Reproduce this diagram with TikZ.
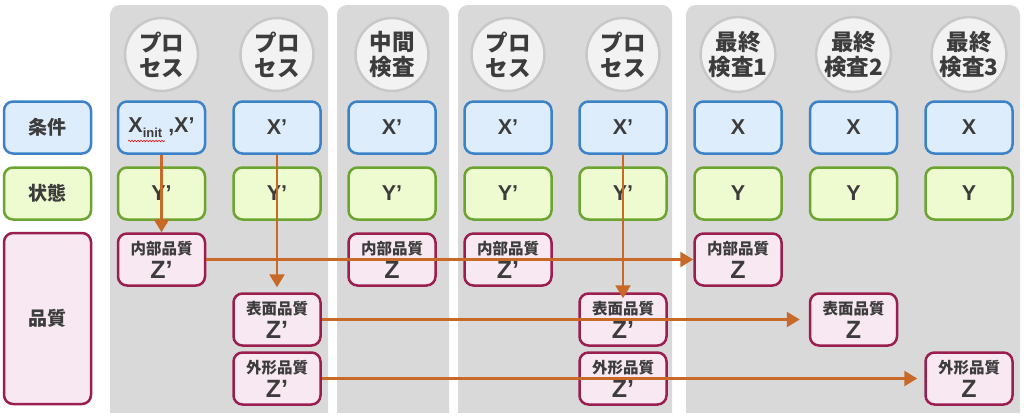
\documentclass[tikz,border=0pt]{standalone}
\usepackage{fontspec}
\usetikzlibrary{arrows.meta}
\usetikzlibrary{decorations.pathmorphing}
\newfontfamily\jpfont{Noto Sans CJK JP}
\newfontfamily\latinfont{Liberation Sans}
\definecolor{panelgray}{HTML}{D9D9D9}
\definecolor{circfill}{HTML}{F2F2F2}
\definecolor{circline}{HTML}{C8C8C8}
\definecolor{condfill}{HTML}{DEEDFB}
\definecolor{condline}{HTML}{3B82C8}
\definecolor{statefill}{HTML}{EEFAD0}
\definecolor{stateline}{HTML}{6BA530}
\definecolor{qualfill}{HTML}{F8E8F1}
\definecolor{qualline}{HTML}{9B1E50}
\definecolor{flowc}{HTML}{C86928}
\definecolor{txt}{HTML}{3C3C3C}
\newcommand{\qlab}[1]{{\jpfont\bfseries\fontsize{15.5}{16}\selectfont #1}}
\newcommand{\qval}[1]{{\latinfont\bfseries\fontsize{25}{25}\selectfont #1}}

\begin{document}
\begin{tikzpicture}[x=1pt, y=-1pt,
    proc/.style={circle, minimum size=73pt, inner sep=0pt, fill=circfill,
        draw=circline, line width=2.5pt, align=center, text=txt,
        font=\jpfont\bfseries\fontsize{22.5}{25}\selectfont},
    box/.style={rounded corners=9pt, minimum width=87pt, minimum height=52pt,
        line width=2.5pt, inner sep=0pt, align=center, text=txt},
    cond/.style={box, fill=condfill, draw=condline,
        font=\latinfont\bfseries\fontsize{21.5}{22}\selectfont},
    state/.style={box, fill=statefill, draw=stateline,
        font=\latinfont\bfseries\fontsize{21.5}{22}\selectfont},
    qual/.style={box, fill=qualfill, draw=qualline,
        font=\fontsize{15}{24}\selectfont},
    side/.style={font=\jpfont\bfseries\fontsize{19}{20}\selectfont},
    flow/.style={draw=flowc, line width=2.5pt,
        -{Triangle[length=13pt, width=15pt, fill=flowc]}}
    ]
    \useasboundingbox (0,0) rectangle (1024,416);

    % panels
    \begin{scope}
        \clip (0,0) rectangle (1024,412);
        \foreach \a/\b in {110/328, 337/449, 458/672, 686/1020} {
                \fill[panelgray, rounded corners=10pt] (\a,5) rectangle (\b,430);
            }
    \end{scope}

    % steps
    \foreach \i/\x/\t in {1/161.5/{プロ\\セス}, 2/277/{プロ\\セス},
            3/392/{中間\\検査}, 4/508/{プロ\\セス}, 5/623/{プロ\\セス},
            6/738/{最終\\検査1}, 7/853.5/{最終\\検査2}, 8/969/{最終\\検査3}} {
            \node[proc] (p\i) at (\x,54.5) {\t};
        }

    % row labels
    \node[cond, side] (lcond) at (47.5,127.5) {条件};
    \node[state, side] (lstate) at (47.5,193.5) {状態};
    \node[qual, side, minimum height=171pt] (lqual) at (47.5,318.5) {品質};

    % conditions and states
    \node[cond] (cond1) at (161.5,127.5)
        {X\raisebox{-5pt}{\fontsize{13}{13}\selectfont init} ,X’};
    \foreach \i/\x/\t in {2/277/X’, 3/392/X’, 4/508/X’, 5/623/X’,
            6/738/X, 7/853.5/X, 8/969/X} {
            \node[cond] (cond\i) at (\x,127.5) {\t};
        }
    \foreach \i/\x/\t in {1/161.5/Y’, 2/277/Y’, 3/392/Y’, 4/508/Y’, 5/623/Y’,
            6/738/Y, 7/853.5/Y, 8/969/Y} {
            \node[state] (st\i) at (\x,193.5) {\t};
        }

    % quality
    \node[qual] (in1) at (161.5,259.5) {\qlab{内部品質}\\\qval{Z’}};
    \node[qual] (in3) at (392,259.5) {\qlab{内部品質}\\\qval{Z}};
    \node[qual] (in4) at (508,259.5) {\qlab{内部品質}\\\qval{Z’}};
    \node[qual] (in6) at (738,259.5) {\qlab{内部品質}\\\qval{Z}};
    \node[qual] (sf2) at (277,319.5) {\qlab{表面品質}\\\qval{Z’}};
    \node[qual] (sf5) at (623,319.5) {\qlab{表面品質}\\\qval{Z’}};
    \node[qual] (sf7) at (853.5,319.5) {\qlab{表面品質}\\\qval{Z}};
    \node[qual] (ex2) at (277,378.5) {\qlab{外形品質}\\\qval{Z’}};
    \node[qual] (ex5) at (623,378.5) {\qlab{外形品質}\\\qval{Z’}};
    \node[qual] (ex8) at (969,378.5) {\qlab{外形品質}\\\qval{Z}};

    \draw[red, line width=0.6pt, decorate,
        decoration={snake, amplitude=0.7pt, segment length=3pt}]
        ([shift={(-33.5,13.5)}]cond1.center) -- ([shift={(3.5,13.5)}]cond1.center);

    % flows
    \draw[flow] (cond1) -- (in1);
    \draw[flow, shorten >=5pt] (cond2) -- (sf2);
    \draw[flow, shorten >=-6pt] (cond5) -- (sf5);
    \draw[flow] (in1) -- (in6);
    \draw[flow, shorten >=9pt] (sf2) -- (sf7);
    \draw[flow, shorten >=7pt] (ex2) -- (ex8);
\end{tikzpicture}
\end{document}
